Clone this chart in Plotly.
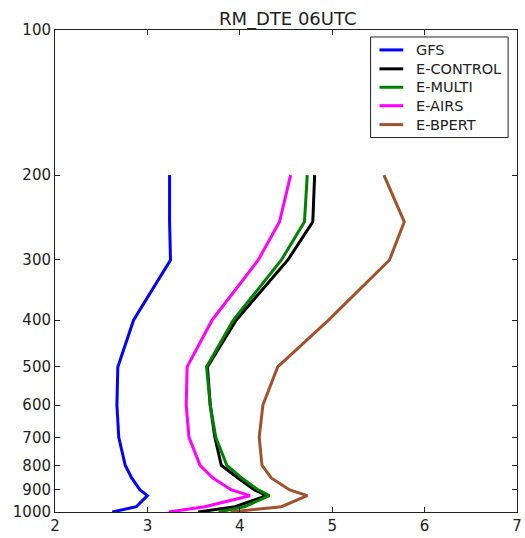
import plotly.graph_objects as go

# Pressure levels (hPa) and profiles for each experiment
levels = [200, 250, 300, 400, 500, 600, 700, 800, 850, 900, 925, 975, 1000]

gfs = [3.24, 3.24, 3.25, 2.85, 2.68, 2.67, 2.69, 2.76, 2.83, 2.92, 3.00, 2.88, 2.62]
e_control = [4.81, 4.79, 4.52, 3.96, 3.65, 3.68, 3.73, 3.80, 3.98, 4.16, 4.29, 3.95, 3.55]
e_multi = [4.73, 4.70, 4.45, 3.93, 3.64, 3.68, 3.74, 3.86, 4.02, 4.20, 4.32, 4.05, 3.77]
e_airs = [4.55, 4.43, 4.20, 3.70, 3.43, 3.42, 3.45, 3.57, 3.71, 3.91, 4.11, 3.62, 3.23]
e_bpert = [5.56, 5.78, 5.62, 4.96, 4.41, 4.25, 4.21, 4.24, 4.34, 4.54, 4.73, 4.45, 3.90]

names = ["GFS", "E-CONTROL", "E-MULTI", "E-AIRS", "E-BPERT"]
profiles = [gfs, e_control, e_multi, e_airs, e_bpert]
colors = ["#0000ff", "#000000", "#008000", "#ff00ff", "#a0522d"]

y_ticks = [100, 200, 300, 400, 500, 600, 700, 800, 900, 1000]
x_ticks = [2, 3, 4, 5, 6, 7]

font_family = "DejaVu Sans"
ink = "#222"

fig = go.Figure()
for name, vals, color in zip(names, profiles, colors):
    fig.add_trace(go.Scatter(
        x=vals, y=levels, mode="lines", name=name,
        line=dict(color=color, width=3), showlegend=False,
    ))

# Boxed legend in the upper-right corner (paper coordinates)
W, H = 525, 538
ML, MR, MT, MB = 55, 3, 30, 24
pw, ph = W - ML - MR, H - MT - MB


def px(xpix):
    return (xpix - ML) / pw


def py(ypix):
    return (H - MB - ypix) / ph


shapes = [dict(type="rect", xref="paper", yref="paper",
               x0=px(374), x1=px(513), y0=py(138), y1=py(37),
               line=dict(color=ink, width=1), fillcolor="white", layer="above")]
annotations = []
row_y = [50, 69, 87.5, 106, 125]
for name, color, ry in zip(names, colors, row_y):
    shapes.append(dict(type="line", xref="paper", yref="paper",
                       x0=px(383), x1=px(407), y0=py(ry), y1=py(ry),
                       line=dict(color=color, width=3), layer="above"))
    annotations.append(dict(xref="paper", yref="paper", x=px(418), y=py(ry),
                            text=name, showarrow=False, xanchor="left", yanchor="middle",
                            font=dict(family=font_family, size=14.5, color=ink)))

fig.update_layout(
    width=W, height=H,
    margin=dict(l=ML, r=MR, t=MT, b=MB),
    paper_bgcolor="white", plot_bgcolor="white",
    title=dict(text="RM_DTE 06UTC", x=0.548, xanchor="center", y=0.965, yanchor="middle",
               font=dict(family=font_family, size=18, color=ink)),
    font=dict(family=font_family, size=15, color=ink),
    showlegend=False,
    shapes=shapes,
    annotations=annotations,
)

fig.update_xaxes(
    range=[2, 7], tickvals=x_ticks, ticktext=[str(v) for v in x_ticks],
    showgrid=False, zeroline=False, ticklabeloverflow="allow",
    showline=True, linecolor=ink, linewidth=1, mirror="allticks",
    ticks="inside", ticklen=5, tickcolor=ink,
)
fig.update_yaxes(
    type="log", range=[3, 2], tickvals=y_ticks, ticktext=[str(v) for v in y_ticks],
    showgrid=False, zeroline=False,
    showline=True, linecolor=ink, linewidth=1, mirror="allticks",
    ticks="inside", ticklen=5, tickcolor=ink,
)

fig.write_html("out.html")
